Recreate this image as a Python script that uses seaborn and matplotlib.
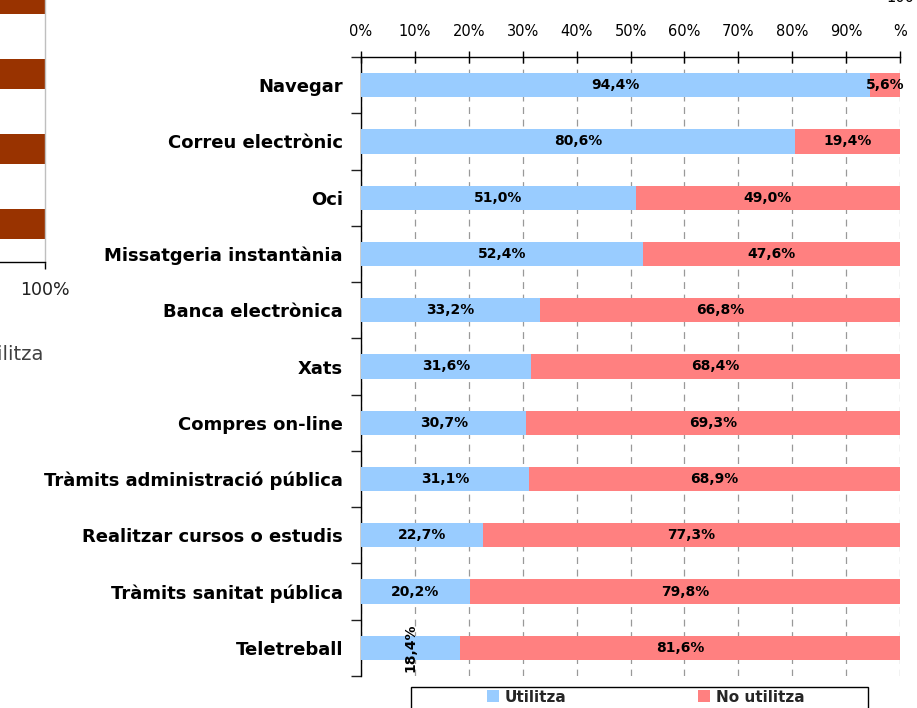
import numpy as np
import pandas as pd
import matplotlib
matplotlib.use("Agg")
import matplotlib.pyplot as plt
import seaborn as sns
from matplotlib.patches import Rectangle
from matplotlib.patches import Patch

# ---------------- data ----------------
categories = [
    "Navegar",
    "Correu electrònic",
    "Oci",
    "Missatgeria instantània",
    "Banca electrònica",
    "Xats",
    "Compres on-line",
    "Tràmits administració pública",
    "Realitzar cursos o estudis",
    "Tràmits sanitat pública",
    "Teletreball",
]
utilitza = [94.4, 80.6, 51.0, 52.4, 33.2, 31.6, 30.7, 31.1, 22.7, 20.2, 18.4]
no_utilitza = [5.6, 19.4, 49.0, 47.6, 66.8, 68.4, 69.3, 68.9, 77.3, 79.8, 81.6]
series_names = ["Utilitza", "No utilitza"]
xtick_values = [0, 10, 20, 30, 40, 50, 60, 70, 80, 90, 100]
xtick_labels = ["0%", "10%", "20%", "30%", "40%", "50%", "60%", "70%", "80%", "90%", "100\n%"]

# partial neighbouring chart visible at the left edge
left_categories = ["A", "B", "C", "D"]
left_values = [100, 100, 100, 100]
left_tick_label = "100%"
left_legend_text = "Utilitza"

BLUE = "#99CCFF"
RED = "#FF8080"
BROWN = "#993300"

sns.set_theme(style="white")
plt.rcParams["font.family"] = ["DejaVu Sans"]

W, H = 917, 708
fig = plt.figure(figsize=(W / 100, H / 100), dpi=100)
fig.patch.set_facecolor("white")

def px(x0, y_top, x1, y_bot):
    return [x0 / W, (H - y_bot) / H, (x1 - x0) / W, (y_bot - y_top) / H]

# ---------------- left partial chart ----------------
axl = fig.add_axes(px(-300, -38.5, 45, 261.5))
dfl = pd.DataFrame({"cat": left_categories, "val": left_values})
sns.barplot(data=dfl, x="val", y="cat", color=BROWN, saturation=1, width=0.4,
            ax=axl, linewidth=0, orient="h")
axl.set_xlim(0, 100)
axl.set_ylim(3.5, -0.5)
axl.set_yticks([])
axl.set_xticks([100])
axl.set_xticklabels([left_tick_label], fontsize=12.5, color="#202020")
axl.tick_params(axis="x", direction="out", length=5, width=1, color="black", pad=9, bottom=True)
axl.set_xlabel("")
axl.set_ylabel("")
for s in ["left", "top"]:
    axl.spines[s].set_visible(False)
axl.spines["right"].set_color("#BFBFBF")
axl.spines["right"].set_linewidth(1)
axl.spines["bottom"].set_color("black")
axl.spines["bottom"].set_linewidth(1)
fig.text(44 / W, (H - 355) / H, left_legend_text, ha="right", va="center",
         fontsize=14, color="#404040")

# ---------------- main chart ----------------
ax = fig.add_axes(px(361, 57, 900, 676))
df = pd.DataFrame({"cat": categories, "u": utilitza, "n": no_utilitza})
df["total"] = df["u"] + df["n"]

sns.barplot(data=df, x="total", y="cat", color=RED, saturation=1, width=0.43,
            ax=ax, linewidth=0, orient="h", zorder=2)
sns.barplot(data=df, x="u", y="cat", color=BLUE, saturation=1, width=0.43,
            ax=ax, linewidth=0, orient="h", zorder=3)

n = len(categories)
ax.set_xlim(0, 100)
ax.set_ylim(n - 0.5, -0.5)
ax.set_xlabel("")
ax.set_ylabel("")

# x axis on top
ax.xaxis.tick_top()
ax.set_xticks(xtick_values)
ax.set_xticklabels(xtick_labels, fontsize=10.5, color="black")
ax.tick_params(axis="x", which="major", direction="inout", length=8, width=1,
               color="black", top=True, bottom=False, labeltop=True,
               labelbottom=False, pad=9)
ax.xaxis.get_major_ticks()[-1].label2.set_linespacing(2.55)

# y axis
ax.set_yticks(range(n))
ax.set_yticklabels(categories, fontsize=13, fontweight="bold", color="black")
ax.set_yticks(np.arange(-0.5, n, 1.0), minor=True)
ax.tick_params(axis="y", which="major", length=0, pad=13, left=True)
ax.tick_params(axis="y", which="minor", length=7, width=1, color="#202020",
               direction="out", left=True)

# grid
ax.set_axisbelow(True)
ax.xaxis.grid(True, color="#999999", linewidth=0.9, linestyle=(0, (5.5, 4.5)), zorder=0)
ax.yaxis.grid(False)

for s in ["right", "bottom"]:
    ax.spines[s].set_visible(False)
for s in ["top", "left"]:
    ax.spines[s].set_visible(True)
    ax.spines[s].set_color("black")
    ax.spines[s].set_linewidth(1)

def fmt(v):
    return f"{v:.1f}".replace(".", ",") + "%"

for i, (u, nn) in enumerate(zip(utilitza, no_utilitza)):
    rot = 90 if u < 19 else 0
    ax.text(u / 2, i, fmt(u), ha="center", va="center", fontsize=10,
            fontweight="bold", color="black", rotation=rot, zorder=5)
    ax.text(u + nn / 2, i, fmt(nn), ha="center", va="center", fontsize=10,
            fontweight="bold", color="black", zorder=5)

# legend
fig.patches.append(Rectangle((411 / W, (H - 720) / H), 457 / W, 33 / H,
                             transform=fig.transFigure, facecolor="white",
                             edgecolor="black", linewidth=1, zorder=1))
handles = [Patch(facecolor=BLUE, edgecolor="none"), Patch(facecolor=RED, edgecolor="none")]
leg = fig.legend(handles, series_names, loc="upper left",
                 bbox_to_anchor=(479 / W, (H - 682) / H), ncol=2, frameon=False,
                 borderpad=0, handlelength=0.8, handleheight=0.8,
                 handletextpad=0.4, columnspacing=8.6,
                 prop={"weight": "bold", "size": 11})
leg.set_zorder(3)

fig.savefig("out.png", dpi=100, facecolor="white")
